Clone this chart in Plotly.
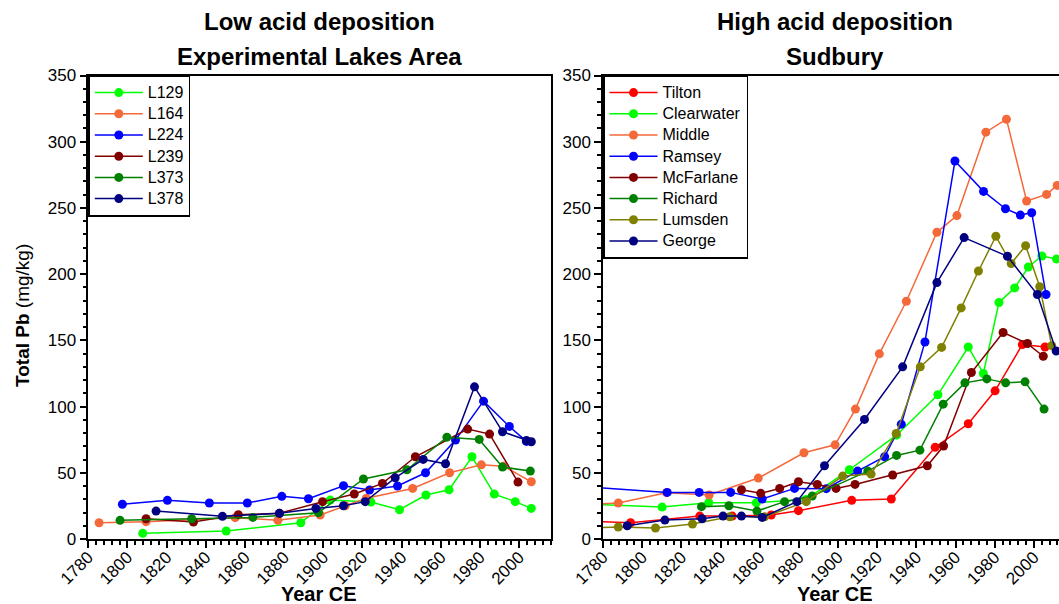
import plotly.graph_objects as go

# ---------------- Data: Experimental Lakes Area (low acid deposition) ----------------
L129_year = [1807.8, 1850.4, 1888.5, 1903.5, 1924.3, 1938.9, 1952.4, 1964.2, 1975.9, 1987.3, 1998.0, 2006.2]
L129_pb   = [4.3, 6.0, 12.3, 29.4, 27.9, 22.1, 33.2, 37.2, 62.1, 33.9, 28.2, 23.1]

L164_year = [1785.5, 1809.5, 1855.0, 1876.8, 1898.4, 1911.2, 1921.9, 1945.6, 1964.5, 1980.7, 1992.0, 2006.2]
L164_pb   = [12.3, 13.1, 16.1, 14.1, 18.1, 25.1, 30.7, 38.2, 50.0, 56.0, 55.0, 43.2]

L224_year = [1797.4, 1820.4, 1841.8, 1861.2, 1878.8, 1892.4, 1910.3, 1923.6, 1937.9, 1952.2, 1967.5, 1981.8, 1995.0, 2003.7]
L224_pb   = [26.2, 29.2, 27.2, 27.2, 32.2, 30.4, 40.2, 37.0, 40.0, 50.0, 74.7, 104.1, 85.0, 73.7]

L239_year = [1809.5, 1833.7, 1856.6, 1877.6, 1899.6, 1915.8, 1930.2, 1947.0, 1973.7, 1984.9, 1999.4]
L239_pb   = [15.3, 12.8, 18.4, 19.4, 28.2, 34.0, 42.0, 62.1, 83.0, 79.2, 43.0]

L373_year = [1796.2, 1832.8, 1864.0, 1897.5, 1920.5, 1942.7, 1963.1, 1979.6, 1991.5, 2005.7]
L373_pb   = [14.1, 15.3, 16.3, 19.9, 45.3, 52.3, 76.9, 75.2, 54.3, 51.3]

L378_year = [1814.6, 1848.5, 1877.6, 1896.2, 1910.3, 1921.4, 1936.7, 1951.0, 1962.4, 1977.2, 1991.5, 2003.7, 2006.2]
L378_pb   = [21.1, 17.1, 19.4, 23.1, 25.1, 28.2, 46.2, 60.1, 56.8, 114.9, 81.0, 74.4, 73.4]

# ---------------- Data: Sudbury (high acid deposition) ----------------
Tilton_year = [1770.0, 1794.1, 1829.4, 1846.0, 1865.9, 1879.8, 1907.0, 1927.2, 1949.6, 1966.5, 1980.2, 1994.1, 2005.7]
Tilton_pb   = [13.5, 12.3, 17.3, 17.3, 18.1, 21.4, 29.2, 30.2, 69.2, 87.0, 111.9, 146.8, 145.0]

Clearwater_year = [1770.0, 1810.2, 1834.0, 1858.3, 1883.7, 1905.8, 1929.9, 1951.0, 1966.5, 1974.2, 1982.2, 1990.2, 1997.2, 2004.1, 2011.6]
Clearwater_pb   = [26.5, 24.1, 27.4, 27.4, 29.9, 52.3, 78.4, 108.9, 145.0, 125.0, 178.6, 189.6, 205.4, 213.7, 211.4]

Middle_year = [1770.0, 1787.8, 1812.4, 1834.2, 1859.3, 1882.6, 1898.5, 1908.9, 1921.1, 1934.9, 1950.5, 1960.7, 1975.5, 1986.0, 1996.3, 2006.5, 2011.9]
Middle_pb   = [26.0, 27.2, 35.0, 33.2, 46.0, 65.1, 71.1, 98.1, 139.8, 179.5, 231.6, 244.2, 307.2, 317.0, 255.2, 260.2, 267.0]

Ramsey_year = [1770.0, 1812.8, 1829.1, 1845.2, 1861.3, 1877.8, 1894.0, 1910.0, 1923.8, 1932.3, 1944.4, 1959.7, 1974.3, 1985.5, 1993.1, 1998.9, 2006.2]
Ramsey_pb   = [39.5, 35.2, 35.2, 35.2, 30.2, 38.2, 38.0, 51.3, 62.1, 86.7, 148.8, 285.4, 262.5, 249.4, 244.6, 246.4, 184.6]

McFarlane_year = [1850.7, 1860.5, 1870.2, 1879.8, 1889.4, 1899.0, 1908.7, 1927.9, 1945.6, 1953.9, 1968.1, 1984.3, 1996.7, 2004.8]
McFarlane_pb   = [37.2, 34.5, 38.2, 43.2, 41.2, 38.2, 41.2, 48.3, 55.3, 70.2, 125.7, 155.9, 147.6, 138.0]

Richard_year = [1830.3, 1844.3, 1858.6, 1872.7, 1886.8, 1915.2, 1929.9, 1941.8, 1953.7, 1964.8, 1976.0, 1985.6, 1995.5, 2005.2]
Richard_pb   = [24.4, 25.1, 21.1, 28.2, 32.4, 51.3, 63.1, 67.1, 101.8, 117.9, 120.9, 117.9, 118.7, 98.1]

Lumsden_year = [1770.0, 1787.8, 1806.8, 1825.7, 1844.7, 1862.5, 1883.8, 1902.4, 1916.9, 1929.7, 1942.0, 1952.9, 1962.9, 1971.7, 1980.6, 1988.4, 1995.8, 2003.0, 2009.1]
Lumsden_pb   = [8.3, 9.1, 8.3, 11.3, 16.8, 16.8, 28.2, 47.5, 49.0, 79.7, 130.0, 144.7, 174.5, 202.4, 228.6, 208.0, 221.5, 190.5, 146.0]

George_year = [1792.4, 1811.6, 1830.6, 1841.3, 1850.7, 1861.3, 1879.0, 1893.1, 1913.5, 1933.0, 1950.5, 1964.4, 1986.5, 2001.8, 2011.4]
George_pb   = [10.0, 14.3, 15.3, 17.3, 17.3, 16.3, 28.2, 55.3, 90.3, 130.0, 193.6, 227.6, 213.5, 184.6, 142.0]

x_ticks = [1780, 1800, 1820, 1840, 1860, 1880, 1900, 1920, 1940, 1960, 1980, 2000]
y_ticks = [0, 50, 100, 150, 200, 250, 300, 350]

ORANGE = "#F4693A"
left_series = [
    ("L129", L129_year, L129_pb, "#00FF00"),
    ("L164", L164_year, L164_pb, ORANGE),
    ("L224", L224_year, L224_pb, "#0000FF"),
    ("L239", L239_year, L239_pb, "#800000"),
    ("L373", L373_year, L373_pb, "#008000"),
    ("L378", L378_year, L378_pb, "#000080"),
]
right_series = [
    ("Tilton", Tilton_year, Tilton_pb, "#FF0000"),
    ("Clearwater", Clearwater_year, Clearwater_pb, "#00FF00"),
    ("Middle", Middle_year, Middle_pb, ORANGE),
    ("Ramsey", Ramsey_year, Ramsey_pb, "#0000FF"),
    ("McFarlane", McFarlane_year, McFarlane_pb, "#800000"),
    ("Richard", Richard_year, Richard_pb, "#008000"),
    ("Lumsden", Lumsden_year, Lumsden_pb, "#808000"),
    ("George", George_year, George_pb, "#000080"),
]

W, H = 1059, 604
FONT = "Arial, Liberation Sans, sans-serif"

def lname(n):
    return "<span style='font-size:16px'>%s</span>" % n

fig = go.Figure()
for name, xs, ys, col in left_series:
    fig.add_trace(go.Scatter(x=xs, y=ys, name=lname(name), mode="lines+markers",
                             line=dict(color=col, width=1.5),
                             marker=dict(color=col, size=9),
                             xaxis="x", yaxis="y", legend="legend"))
for name, xs, ys, col in right_series:
    fig.add_trace(go.Scatter(x=xs, y=ys, name=lname(name), mode="lines+markers",
                             line=dict(color=col, width=1.5),
                             marker=dict(color=col, size=9),
                             xaxis="x2", yaxis="y2", legend="legend2"))

# pixel geometry
top_px, bot_px = 75.5, 539.0
L0, L1 = 88.3, 550.5
R0 = 603.0
ydom = [(H - bot_px) / H, (H - top_px) / H]

def xaxis(dom, rng):
    return dict(domain=dom, range=rng, tickmode="array", tickvals=x_ticks,
                ticks="outside", ticklen=7, tickwidth=1.5, tickcolor="black",
                tickangle=-45, tickfont=dict(size=17, color="black", family=FONT),
                ticklabelstandoff=-7,
                showline=True, linecolor="black", linewidth=1.5, mirror=True,
                showgrid=False, zeroline=False, automargin=False,
                minor=dict(dtick=4, tick0=1780, ticks="outside", ticklen=4,
                           tickwidth=1.5, tickcolor="black", showgrid=False))

def yaxis(anchor, mirror):
    return dict(domain=ydom, range=[0, 350], anchor=anchor, tickmode="array", tickvals=y_ticks,
                ticks="outside", ticklen=7, tickwidth=1.5, tickcolor="black",
                tickfont=dict(size=17, color="black", family=FONT),
                showline=True, linecolor="black", linewidth=1.5, mirror=mirror,
                showgrid=False, zeroline=False, automargin=False,
                minor=dict(dtick=10, tick0=0, ticks="outside", ticklen=4,
                           tickwidth=1.5, tickcolor="black", showgrid=False))

xr_end = 1780 + (W - R0) / ((L1 - L0) / (2016 - 1780))

legend_common = dict(y=ydom[1], xanchor="left", yanchor="top",
                     bordercolor="black", borderwidth=1.5, bgcolor="white",
                     font=dict(size=14, color="black", family=FONT), itemwidth=48,
                     tracegroupgap=0)

fig.update_layout(
    width=W, height=H, autosize=False,
    margin=dict(l=0, r=0, t=0, b=0, pad=0, autoexpand=False),
    paper_bgcolor="white", plot_bgcolor="white",
    font=dict(family=FONT, color="black"),
    xaxis=dict(**xaxis([L0 / W, L1 / W], [1780, 2016]), anchor="y"),
    yaxis=yaxis("x", True),
    xaxis2=dict(**xaxis([R0 / W, 1.0], [1780, xr_end]), anchor="y2"),
    yaxis2=yaxis("x2", False),
    legend=dict(x=L0 / W, **legend_common),
    legend2=dict(x=R0 / W, **legend_common),
    showlegend=True,
)

tfont = dict(size=24, color="black", family=FONT)
cl = (L0 + L1) / 2 / W
cr = (R0 + 1066) / 2 / W
ann = [
    dict(text="<b>Low acid deposition</b>", x=cl, y=1 - 22 / H),
    dict(text="<b>Experimental Lakes Area</b>", x=cl, y=1 - 57 / H),
    dict(text="<b>High acid deposition</b>", x=cr, y=1 - 22 / H),
    dict(text="<b>Sudbury</b>", x=cr, y=1 - 57 / H),
]
for a in ann:
    fig.add_annotation(xref="paper", yref="paper", showarrow=False, font=tfont,
                       xanchor="center", yanchor="middle", **a)

xtfont = dict(size=20, color="black", family=FONT)
for cx in (cl, cr):
    fig.add_annotation(text="<b>Year CE</b>", xref="paper", yref="paper", x=cx, y=1 - 594 / H,
                       showarrow=False, font=xtfont, xanchor="center", yanchor="middle")
fig.add_annotation(text="<b>Total Pb</b> (mg/kg)", xref="paper", yref="paper",
                   x=22 / W, y=1 - 316 / H, textangle=-90, showarrow=False,
                   font=dict(size=19, color="black", family=FONT),
                   xanchor="center", yanchor="middle")

fig.write_html("out.html", post_script="document.body.style.margin='0px';")
